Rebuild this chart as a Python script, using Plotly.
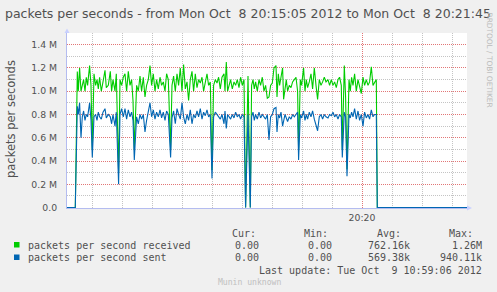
import pandas as pd
import plotly.graph_objects as go

# ---------------- data ----------------
START = "2012-10-08 20:15:05"
END = "2012-10-08 20:21:45"
X_TICKS = ["2012-10-08 20:20:00"]
X_TICK_LABELS = ["20:20"]
MINOR_ORIGIN = "2012-10-08 20:15:00"

# seconds after START
t_sec = [0, 8.3,
         10.3, 11.3, 12.6, 14.0, 15.3, 16.6, 18.0, 19.3, 20.6, 22.6, 24.0, 25.3, 27.0, 28.6,
         30.0, 31.3, 32.6, 34.3, 36.0, 38.0, 39.3, 41.3, 43.3, 44.6, 46.0, 48.0, 49.3, 51.6,
         53.0, 54.6, 56.3, 58.0, 59.6, 61.3, 63.0, 64.6, 66.0, 67.3, 69.6, 71.3, 73.0, 74.6,
         76.3, 78.0, 79.6, 81.3, 83.0, 84.6, 86.3, 88.0, 89.6, 91.3, 93.0, 94.6, 96.3, 98.0,
         99.6, 101.3, 103.6,
         105.0, 106.6, 108.3, 110.0, 111.6, 113.3, 115.0, 116.6, 118.3, 120.0, 121.6, 123.3,
         125.0, 126.6, 128.3, 130.0, 131.6, 133.3, 135.0, 136.6, 138.3, 140.0, 141.6, 143.3,
         145.0, 146.6, 148.3, 150.0, 151.6, 153.3, 155.0,
         157.0, 158.0, 159.3, 160.6, 162.0, 163.6, 165.3, 167.0, 168.6, 170.3, 172.0, 173.6,
         175.3, 177.0, 178.6, 181.0, 183.3, 184.6, 186.0, 187.3, 188.6, 190.3, 192.0, 193.6,
         195.3, 197.0, 198.6, 200.3, 202.0, 203.6, 205.3, 207.0,
         209.0, 210.0, 211.3, 212.6, 214.0, 215.6, 216.6, 218.0, 219.3, 220.6, 222.3, 224.0,
         225.6, 227.3, 229.0, 230.6, 231.6, 233.3, 234.6, 236.6, 238.0, 239.3, 240.6, 242.3,
         244.0, 245.6, 247.3, 249.0, 250.6, 252.3, 254.0, 255.6, 257.3, 259.0,
         261.0, 262.6, 264.3, 266.0, 267.6, 269.3, 271.0, 272.6, 274.3, 275.3, 277.3, 278.6,
         280.0, 282.0, 283.3, 284.6, 286.0, 287.6, 289.3, 291.0, 292.6, 294.3, 296.0, 297.6,
         299.3, 301.0, 302.6, 304.3, 306.0, 307.6, 309.3, 310.3, 400.0]

# packets per second received (millions)
received_M = [0, 0,
              1.17, 1.00, 1.20, 1.00, 1.05, 1.10, 1.00, 1.12, 1.05, 1.22, 1.05, 0.50, 1.15, 1.05,
              1.10, 1.02, 1.12, 1.00, 1.08, 1.18, 1.03, 1.05, 1.17, 1.00, 1.10, 1.00, 1.15, 0.30,
              1.10, 1.05, 1.12, 1.15, 1.00, 1.17, 1.05, 1.10, 0.92, 0.50, 1.05, 1.00, 1.13, 1.00,
              1.12, 0.95, 1.05, 1.10, 1.22, 1.05, 1.15, 1.00, 1.10, 1.02, 1.12, 1.05, 1.08, 1.00,
              1.15, 1.10, 0.50,
              1.05, 1.13, 1.00, 1.15, 1.05, 1.20, 1.00, 1.23, 1.02, 1.08, 0.92, 1.10,
              1.17, 1.00, 1.15, 1.03, 1.10, 1.07, 1.12, 1.00, 1.08, 1.15, 1.05, 1.08,
              0.32, 1.05, 1.10, 1.07, 1.12, 1.02, 1.12,
              1.15, 1.00, 1.25, 1.00, 1.05, 1.10, 1.02, 1.08, 1.05, 1.10, 1.03, 1.12,
              1.05, 1.10, 0.00, 1.13, 0.00, 1.05, 1.10, 1.02, 1.08, 1.00, 1.10, 1.05,
              1.12, 1.00, 1.05, 0.94, 0.95, 1.05, 1.07, 1.20,
              1.22, 0.95, 1.15, 1.05, 1.12, 1.20, 0.93, 1.05, 1.10, 1.00, 1.05, 1.03,
              1.08, 1.10, 1.12, 1.00, 0.50, 1.10, 1.05, 1.20, 1.00, 1.10, 1.03, 1.08,
              1.15, 1.02, 1.20, 1.05, 0.93, 1.10, 1.05, 1.08, 1.12, 1.08,
              1.10, 1.05, 1.10, 1.05, 1.08, 1.03, 1.10, 1.12, 1.05, 0.50, 1.22, 0.95,
              0.33, 1.10, 1.00, 1.12, 1.05, 1.15, 1.00, 1.10, 1.05, 0.98, 1.12, 1.05,
              1.10, 1.05, 1.08, 1.21, 1.05, 1.08, 1.10, 0, 0]

# packets per second sent (millions)
sent_M = [0, 0,
          0.87, 0.80, 0.90, 0.60, 0.78, 0.83, 0.75, 0.80, 0.78, 0.90, 0.75, 0.43, 0.78, 0.80,
          0.75, 0.82, 0.78, 0.76, 0.82, 0.85, 0.77, 0.80, 0.78, 0.72, 0.80, 0.70, 0.82, 0.20,
          0.80, 0.85, 0.78, 0.85, 0.76, 0.84, 0.78, 0.82, 0.75, 0.41, 0.78, 0.72, 0.80, 0.76,
          0.80, 0.65, 0.75, 0.83, 0.90, 0.78, 0.84, 0.76, 0.82, 0.78, 0.84, 0.77, 0.82, 0.75,
          0.83, 0.80, 0.43,
          0.77, 0.83, 0.72, 0.85, 0.80, 0.76, 0.90, 0.78, 0.72, 0.80, 0.75, 0.84,
          0.72, 0.80, 0.77, 0.83, 0.78, 0.85, 0.76, 0.82, 0.79, 0.84, 0.78, 0.80,
          0.25, 0.78, 0.82, 0.80, 0.78, 0.76, 0.80,
          0.72, 0.83, 0.68, 0.80, 0.78, 0.76, 0.80, 0.77, 0.82, 0.78, 0.80, 0.76,
          0.80, 0.78, 0.00, 0.80, 0.00, 0.78, 0.82, 0.75, 0.80, 0.76, 0.82, 0.77,
          0.80, 0.78, 0.76, 0.80, 0.58, 0.78, 0.80, 0.85,
          0.86, 0.65, 0.80, 0.77, 0.82, 0.70, 0.75, 0.80, 0.77, 0.74, 0.78, 0.76,
          0.80, 0.78, 0.80, 0.82, 0.41, 0.80, 0.77, 0.83, 0.75, 0.80, 0.76, 0.82,
          0.78, 0.83, 0.76, 0.70, 0.66, 0.78, 0.80, 0.76, 0.80, 0.78,
          0.77, 0.80, 0.79, 0.82, 0.78, 0.80, 0.76, 0.80, 0.78, 0.43, 0.82, 0.78,
          0.27, 0.80, 0.77, 0.82, 0.78, 0.85, 0.76, 0.83, 0.75, 0.80, 0.70, 0.82,
          0.77, 0.80, 0.76, 0.84, 0.78, 0.80, 0.80, 0, 0]

Y_TICKS_M = [0.0, 0.2, 0.4, 0.6, 0.8, 1.0, 1.2, 1.4]
Y_TICK_LABELS = ["0.0", "0.2 M", "0.4 M", "0.6 M", "0.8 M", "1.0 M", "1.2 M", "1.4 M"]
Y_MAX_M = 1.5

SERIES_NAMES = ["packets per second received", "packets per second sent"]
COLORS = ["#00CC00", "#0066B3"]
STATS_HEADER = ["Cur:", "Min:", "Avg:", "Max:"]
STATS = [["0.00", "0.00", "762.16k", "1.26M"],
         ["0.00", "0.00", "569.38k", "940.11k"]]
TITLE = "packets per seconds - from Mon Oct \u00a08 20:15:05 2012 to Mon Oct \u00a08 20:21:45"
Y_TITLE = "packets per seconds"
LAST_UPDATE = "Last update: Tue Oct \u00a09 10:59:06 2012"
FOOTER = "Munin unknown"
WATERMARK = "RRDTOOL / TOBI OETIKER"

# ---------------- figure ----------------
W_FIG, H_FIG = 497, 292
L, T, PW, PH = 67, 33, 400, 175

start = pd.Timestamp(START)
span = (pd.Timestamp(END) - start).total_seconds()
xt = [(pd.Timestamp(v) - start).total_seconds() for v in X_TICKS]
minor0 = (pd.Timestamp(MINOR_ORIGIN) - start).total_seconds()


def px(x):
    return (x - L) / PW


def py(y):
    return (T + PH - y) / PH


fig = go.Figure()
for name, vals, col in zip(SERIES_NAMES, [received_M, sent_M], COLORS):
    fig.add_trace(go.Scatter(x=t_sec, y=[v * 1e6 for v in vals], mode="lines",
                             name=name, line=dict(color=col, width=1.1),
                             hoverinfo="skip"))

SANS = "DejaVu Sans"
MONO = "DejaVu Sans Mono"
TXT = "#505050"
MAJ = "rgba(230,110,110,0.9)"
MIN = "#c4c4c4"
AXC = "#b4bcf0"

fig.update_layout(
    width=W_FIG, height=H_FIG,
    margin=dict(l=L, r=W_FIG - L - PW, t=T, b=H_FIG - T - PH, pad=0),
    paper_bgcolor="#F0F0F0", plot_bgcolor="#FFFFFF",
    showlegend=False,
    xaxis=dict(range=[0, span], tickmode="array", tickvals=xt, ticktext=X_TICK_LABELS,
               showgrid=True, gridcolor=MAJ, griddash="1px,1px", gridwidth=1,
               minor=dict(dtick=30, tick0=minor0, showgrid=True, gridcolor=MIN,
                          griddash="1px,1px", gridwidth=1),
               zeroline=False, showline=True, linecolor=AXC, linewidth=1,
               ticks="", tickfont=dict(family=SANS, size=9.3, color=TXT),
               ticklabelstandoff=1, layer="below traces", fixedrange=True),
    yaxis=dict(range=[-3500, Y_MAX_M * 1e6], tickmode="array",
               tickvals=[v * 1e6 for v in Y_TICKS_M], ticktext=Y_TICK_LABELS,
               showgrid=True, gridcolor=MAJ, griddash="1px,1px", gridwidth=1,
               minor=dict(dtick=1e5, tick0=0, showgrid=True, gridcolor=MIN,
                          griddash="1px,1px", gridwidth=1),
               zeroline=False, showline=True, linecolor=AXC, linewidth=1,
               ticks="", tickfont=dict(family=SANS, size=9.3, color=TXT),
               ticklabelstandoff=7, layer="below traces", fixedrange=True),
)

ann = []


def add(text, x, y, xanchor="left", size=10, family=MONO, color=TXT, angle=0):
    ann.append(dict(text=text, x=px(x), y=py(y), xref="paper", yref="paper",
                    xanchor=xanchor, yanchor="middle", showarrow=False,
                    borderpad=0, textangle=angle,
                    font=dict(family=family, size=size, color=color)))


add(TITLE, 4, 13.5, size=12.5, family=SANS)
add(Y_TITLE, 11, 119, xanchor="center", size=11.5, family=SANS, angle=-90)
add(WATERMARK, 489, 59.5, xanchor="center", size=7.4, family=SANS, color="#bbbbbb", angle=90)

# legend table
header_left = [230.7, 303.3, 376.0, 447.7]
stat_right = [260.0, 332.7, 410.7, 483.3]
row_y = [245.0, 257.5]
for h, x in zip(STATS_HEADER, header_left):
    add(h, x, 233.5)
shapes = []
for i, (name, col) in enumerate(zip(SERIES_NAMES, COLORS)):
    add(name, 26.7, row_y[i])
    for v, x in zip(STATS[i], stat_right):
        add(v, x, row_y[i], xanchor="right")
    shapes.append(dict(type="rect", xref="paper", yref="paper",
                       x0=px(14), x1=px(19.5), y0=py(row_y[i] - 3), y1=py(row_y[i] + 2.5),
                       fillcolor=col, line=dict(width=0)))
add(LAST_UPDATE, 483.3, 270, xanchor="right")
add(FOOTER, 216.7, 281.5, size=8.1, color="#c0c0c0")

# axis arrow heads
shapes.append(dict(type="path", xref="paper", yref="paper",
                   path=f"M {px(467)},{py(205.5)} L {px(472)},{py(208)} L {px(467)},{py(210.5)} Z",
                   fillcolor="#c8d0ff", line=dict(width=0)))
shapes.append(dict(type="path", xref="paper", yref="paper",
                   path=f"M {px(64.5)},{py(33)} L {px(67)},{py(28.5)} L {px(69.5)},{py(33)} Z",
                   fillcolor="#c8d0ff", line=dict(width=0)))

fig.update_layout(annotations=ann, shapes=shapes)
fig.write_html("out.html")
